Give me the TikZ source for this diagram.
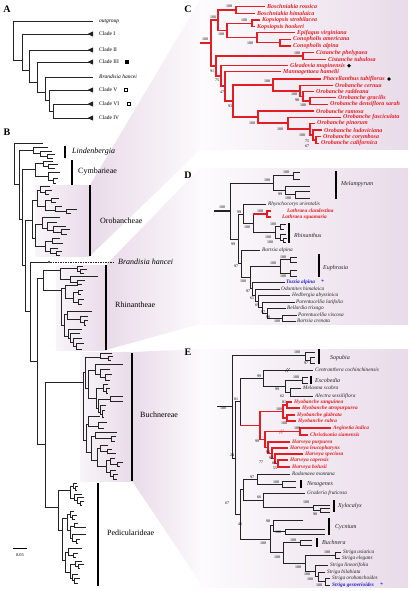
\documentclass[tikz,border=0pt]{standalone}
\usepackage{fontspec}
\setmainfont{Liberation Serif}
\definecolor{ored}{RGB}{226,30,36}
\definecolor{oblue}{RGB}{35,35,205}
\definecolor{tg}{RGB}{35,35,35}
\definecolor{shd}{RGB}{233,219,233}
\newcounter{bsn}
\newcounter{tln}
\newcommand\brk[5]{\draw (#4,#2) -- (#1,#2) -- (#1,#3) -- (#5,#3);}
\newcommand\bsv[3]{\stepcounter{bsn}\node[bs] (b\arabic{bsn}) at (#1,#2) {#3};}
\newcommand\tlab[4]{\stepcounter{tln}\node[#1] (t\arabic{tln}) at (#2,#3) {#4};}
\tikzset{
  bs/.style={inner sep=0pt, font=\fontsize{4}{4.5}\selectfont, text=black},
  alab/.style={anchor=west, inner sep=0pt, font=\fontsize{5.5}{6}\selectfont},
  tipC/.style={anchor=west, inner sep=0pt, font=\fontsize{6}{7}\selectfont\bfseries\itshape, text=ored},
  tip/.style={anchor=west, inner sep=0pt, font=\fontsize{5.3}{6}\selectfont\itshape, text=tg},
  tipR/.style={tip, font=\fontsize{5.3}{6}\selectfont\bfseries\itshape, text=ored},
  tipB/.style={tip, font=\fontsize{5.3}{6}\selectfont\bfseries\itshape, text=oblue},
  grp/.style={anchor=west, inner sep=0pt, font=\fontsize{6}{7}\selectfont\itshape, text=tg},
  clade/.style={anchor=west, inner sep=0pt, font=\fontsize{8}{9}\selectfont},
  plab/.style={inner sep=0pt, font=\fontsize{10}{11}\selectfont\bfseries},
  bar/.style={line width=1.4pt, black},
}
\begin{document}
\begin{tikzpicture}[x=1pt,y=-1pt]
\useasboundingbox (0,0) rectangle (410,591);
% ---------- shading fans ----------
\shade[left color=shd!30, right color=shd] (35,185) rectangle (90,256);
\shade[left color=shd, right color=shd!15] (90,185) -- (200,0) -- (200,150) -- (90,256) -- cycle;
\shade[left color=shd!10, right color=shd] (200,0) rectangle (408,149);
\shade[left color=shd!30, right color=shd] (56,265) rectangle (106,350);
\shade[left color=shd, right color=shd!15] (106,265) -- (200,168) -- (200,324) -- (106,350) -- cycle;
\shade[left color=shd!10, right color=shd] (200,168) rectangle (408,324);
\shade[left color=shd!30, right color=shd] (80,352) rectangle (132,481);
\shade[left color=shd, right color=shd!15] (132,352) -- (200,349) -- (200,582) -- (132,481) -- cycle;
\shade[left color=shd!10, right color=shd] (200,349) rectangle (408,587);
% ---------- panel letters ----------
\node[plab] (pA) at (7,9) {A};
\node[plab] (pB) at (7,132) {B};
\node[plab] (pC) at (188,9) {C};
\node[plab] (pD) at (188,175) {D};
\node[plab] (pE) at (188,352) {E};
% ---------- panel A ----------
\begin{scope}[line width=0.9pt, tg]
\brk{13}{21.7}{60}{93}{22}
\brk{22}{34}{70}{93}{29}
\brk{29}{50}{82}{93}{37}
\brk{37}{62}{92}{93}{45}
\brk{45}{77}{100}{93}{49}
\brk{49}{90}{111}{93}{53}
\brk{53}{104}{118}{93}{93}
\foreach \yy in {34,50,62,90,104,118}{\fill (87.5,\yy) -- (93,\yy-2.6) -- (93,\yy+2.6) -- cycle;}
\end{scope}
\tlab{alab}{99}{21.7}{\itshape outgroup}
\tlab{alab}{99}{34}{Clade I}
\tlab{alab}{99}{50}{Clade II}
\tlab{alab}{99}{62}{Clade III}
\tlab{alab}{99}{77}{\itshape Brandisia hancei}
\tlab{alab}{99}{90}{Clade V}
\tlab{alab}{99}{104}{Clade VI}
\tlab{alab}{99}{118}{Clade IV}
\fill[black] (125.3,60.5) rectangle (128.7,63.9);
\draw[line width=0.4pt] (124,88.5) rectangle (127,91.5);
\draw[line width=0.4pt] (127,102.5) rectangle (130,105.5);
% ---------- panel B ----------
\begin{scope}[line width=0.6pt, tg]
\brk{14}{143}{184}{43}{19}
\brk{19}{150}{219}{33}{22}
\brk{22}{169.5}{265.5}{35}{25}
\brk{25}{220}{311}{32}{30}
\brk{30}{262}{361}{48}{37}
\brk{37}{278}{444.5}{43}{45}
\brk{45}{382}{507}{83}{58}
% Lindenbergia
\brk{33}{147}{153}{48}{40}
\brk{40}{151}{156}{52}{47}
\brk{47}{154}{158}{55}{53}
% Cymbarieae
\brk{35}{163.5}{176}{43}{48}
\brk{43}{161}{166}{53}{48}
\brk{48}{164.5}{168}{58}{55}
\brk{48}{172}{180}{60}{53}
\brk{53}{178}{183}{58}{56}
% Orobancheae
\brk{32}{200}{238}{37}{35}
\brk{37}{190}{206}{40}{45}
\brk{40}{186.5}{192}{50}{45}
\brk{45}{190}{194}{52}{49}
\brk{45}{200}{210}{51}{55}
\brk{51}{198}{202}{59}{56}
\brk{55}{206}{211}{62}{66}
\brk{66}{209.5}{213}{77}{71}
\brk{35}{224}{246}{42}{45}
\brk{42}{217}{228}{60}{47}
\brk{47}{222}{230}{57}{53}
\brk{53}{226}{232}{66}{61}
\brk{61}{229.5}{234.5}{70}{67}
\brk{45}{241}{251}{52}{50}
\brk{52}{238}{243}{60}{63}
\brk{50}{248}{253}{58}{56}
\brk{56}{251.5}{255}{62}{60}
% Rhinantheae
\brk{43}{270}{290}{60}{61}
\brk{60}{268}{279}{77}{70}
\brk{77}{266}{271}{83}{80}
\brk{80}{269}{273}{87}{84}
\brk{70}{276}{282}{98}{77}
\brk{77}{280}{284}{85}{82}
\brk{61}{288}{325}{65}{64}
\brk{65}{285}{298}{78}{73}
\brk{73}{292}{302}{78}{78}
\brk{78}{290}{294}{83}{81}
\brk{78}{299}{304}{84}{82}
\brk{64}{314}{336}{67}{68}
\brk{67}{311}{319}{92}{80}
\brk{80}{316}{322}{88}{84}
\brk{84}{320}{325}{88}{86}
\brk{68}{329}{338}{82}{70}
\brk{70}{333}{342}{80}{73}
\brk{73}{338}{346}{82}{76}
\brk{76}{343}{349}{84}{82}
% Buchnereae
\brk{83}{372}{440}{85}{86}
\brk{85}{357}{388}{100}{88}
\brk{100}{353}{358}{112}{108}
\brk{108}{356}{360}{113}{111}
\brk{88}{370}{398}{95}{96}
\brk{95}{364}{374}{123}{100}
\brk{100}{369}{377}{110}{105}
\brk{105}{374}{380}{112}{110}
\brk{96}{388}{408}{103}{98}
\brk{103}{384}{391}{108}{106}
\brk{106}{388.5}{393}{110}{108}
\brk{98}{399}{412}{110}{100}
\brk{110}{396.5}{401}{123}{123}
\brk{100}{405}{414}{106}{102}
\brk{102}{410}{417}{105}{104}
\brk{86}{424}{452}{88}{91}
\brk{88}{416}{426}{100}{98}
\brk{98}{422}{428.5}{107}{104}
\brk{91}{436}{460}{95}{97}
\brk{95}{432}{438}{117}{111}
\brk{111}{436}{441}{116}{115}
\brk{97}{448}{466}{100}{106}
\brk{100}{445}{451}{108}{107}
\brk{107}{449}{453}{112}{116}
\brk{106}{460}{472}{110}{110}
\brk{110}{458}{464}{115}{117}
\brk{117}{462}{466}{123}{120}
\brk{110}{470}{476}{116}{113}
\brk{113}{474}{479}{118}{117}
% Pedicularideae
\brk{58}{490}{530}{70}{62}
\brk{70}{486}{498}{73}{74}
\brk{73}{483}{488}{77}{75}
\brk{75}{486}{490}{78}{77}
\brk{74}{494}{500}{82}{77}
\brk{77}{497}{503}{84}{80}
\brk{80}{501}{505}{84}{82}
\brk{62}{518}{560}{67}{65}
\brk{67}{514}{530}{70}{70}
\brk{70}{511}{517}{74}{72}
\brk{72}{515}{519}{77}{75}
\brk{70}{526}{538}{74}{72}
\brk{74}{523}{527}{78}{86}
\brk{72}{534}{541}{86}{76}
\brk{76}{539}{543}{80}{78}
\brk{65}{552}{572}{68}{70}
\brk{68}{548}{555}{82}{73}
\brk{73}{553}{557}{78}{76}
\brk{70}{564}{578}{75}{72}
\brk{75}{561}{566}{82}{78}
\brk{78}{564}{568}{84}{80}
\brk{72}{574}{580}{78}{74}
\brk{74}{578}{583}{80}{78}
\end{scope}
% Brandisia
\fill[tg] (49,262) circle (1.1);
\coordinate (brA) at (50,262);
\coordinate (brB) at (113,262);
\draw[tg, line width=0.4pt, dash pattern=on 1.5pt off 1pt] (brA) -- (brB);
\node[clade, font=\fontsize{8}{9}\selectfont\itshape] (bh) at (118,262) {Brandisia hancei};
% bars and clade names
\draw[bar] (65,146) -- (65,158);
\node[clade, font=\fontsize{8}{9}\selectfont\itshape] (cl1) at (72,152) {Lindenbergia};
\draw[bar] (72,160) -- (72,185);
\node[clade] (cl2) at (78,172) {Cymbarieae};
\draw[bar] (90,185) -- (90,256);
\node[clade] (cl3) at (100,221) {Orobancheae};
\draw[bar] (106,265) -- (106,350);
\node[clade] (cl4) at (115,305) {Rhinantheae};
\draw[bar] (132,353) -- (132,481);
\node[clade] (cl5) at (140,415) {Buchnereae};
\draw[bar] (98,483) -- (98,586);
\node[clade] (cl6) at (107,533) {Pedicularideae};
% scale bar
\draw[line width=0.6pt] (13,548) -- (27,548);
\node[bs, font=\fontsize{4.4}{5}\selectfont] (sc) at (20,555) {0.05};
% ---------- panel C ----------
\begin{scope}[line width=1.1pt, ored]
\draw (200,43) -- (211,43);
\brk{211}{20}{66}{218}{216}
\brk{218}{10}{30.5}{236}{227}
\brk{236}{6.7}{13.3}{265}{255}
\brk{227}{23.3}{37.7}{252}{257}
\brk{252}{20}{26.7}{260}{255}
\brk{257}{32.7}{42.7}{295}{280}
\brk{280}{39.3}{46}{291}{291}
\brk{216}{56}{76}{303}{221}
\brk{303}{52.7}{59.3}{314}{326}
\brk{221}{65.7}{86}{288}{225}
\brk{225}{71.7}{101}{281}{233}
\brk{233}{85}{117}{273}{258}
\brk{273}{79}{91}{321}{300}
\brk{300}{85.7}{96.3}{333}{303}
\brk{303}{91.7}{101}{314}{310}
\brk{310}{97.7}{104.3}{336}{328}
\brk{258}{111}{123}{314}{288}
\brk{288}{117.3}{129}{341}{310}
\brk{310}{123.3}{135}{315}{313}
\brk{313}{130}{140}{322}{316}
\brk{316}{136.7}{143.3}{321}{319}
\end{scope}
\tlab{tipC}{267}{6.7}{Boschniakia rossica}
\tlab{tipC}{257}{13.3}{Boschniakia himalaica}
\tlab{tipC}{262}{20}{Kopsiopsis strobilacea}
\tlab{tipC}{257}{26.7}{Kopsiopsis hookeri}
\tlab{tipC}{297}{32.7}{Epifagus virginiana}
\tlab{tipC}{293}{39.3}{Conopholis americana}
\tlab{tipC}{293}{46}{Conopholis alpina}
\tlab{tipC}{316}{52.7}{Cistanche phelypaea}
\tlab{tipC}{328}{59.3}{Cistanche tubulosa}
\tlab{tipC}{290}{65.7}{Gleadovia mupinensis}
\tlab{tipC}{283}{71.7}{Mannagettaea hamelii}
\tlab{tipC}{323}{79}{Phacellanthus tubiflorus}
\tlab{tipC}{335}{85.7}{Orobanche cernua}
\tlab{tipC}{316}{91.7}{Orobanche raddeana}
\tlab{tipC}{338}{97.7}{Orobanche gracilis}
\tlab{tipC}{330}{104.3}{Orobanche densiflora sarah}
\tlab{tipC}{316}{111}{Orobanche ramosa}
\tlab{tipC}{343}{117.3}{Orobanche fasciculata}
\tlab{tipC}{317}{123.3}{Orobanche pinorum}
\tlab{tipC}{324}{130}{Orobanche ludoviciana}
\tlab{tipC}{323}{136.7}{Orobanche corymbosa}
\tlab{tipC}{321}{143.3}{Orobanche californica}
\fill[black] (349,65.7) circle (1.9);
\fill[black] (389,79) circle (1.9);
\bsv{229}{6}{100}\bsv{244}{20}{100}\bsv{213}{17}{100}\bsv{221}{34}{100}
\bsv{250}{43}{100}\bsv{205}{39}{100}\bsv{297}{53}{100}\bsv{212}{71}{91}
\bsv{217}{80}{75}\bsv{267}{81}{100}\bsv{222}{92}{47}\bsv{230}{106}{93}
\bsv{294}{94}{100}\bsv{297}{100}{98}\bsv{303}{105}{100}\bsv{252}{123}{100}
\bsv{280}{129}{100}\bsv{302}{135}{100}\bsv{307}{141}{75}\bsv{307}{146}{67}
% ---------- panel D ----------
\draw[tg, line width=1.4pt] (214,211) -- (230,211);
\begin{scope}[line width=0.6pt, tg]
\brk{230}{183}{239}{273}{238}
\brk{273}{175.5}{190}{293}{285}
\brk{293}{172}{179}{300}{300}
\brk{285}{186}{194.5}{310}{295}
\brk{295}{191}{198}{310}{310}
\brk{238}{214.5}{263.5}{243}{241}
\brk{243}{204}{223}{266}{253}
\draw (275,232) -- (253,232) -- (253,214);
\brk{275}{226.5}{238}{280}{280}
\brk{280}{224}{229}{286}{284}
\brk{280}{234}{240}{286}{283}
\brk{283}{238}{242}{287}{286}
\brk{241}{250}{277}{260}{250}
\brk{250}{266}{288.5}{280}{252}
\brk{280}{259.5}{273}{290}{290}
\brk{290}{257}{262}{297}{297}
\brk{290}{270}{276}{297}{297}
\brk{252}{282}{295}{285}{255}
\brk{255}{289}{301}{280}{258}
\brk{258}{295}{307.5}{290}{262}
\brk{262}{302}{313}{295}{267}
\brk{267}{308}{318}{286}{282}
\brk{282}{315}{321}{297}{296}
\end{scope}
\begin{scope}[line width=1.1pt, ored]
\draw (253,214) -- (267,214);
\brk{267}{211}{217}{271}{271}
\end{scope}
\draw[bar] (336,171) -- (336,199);
\draw[bar] (289,223) -- (289,243);
\draw[bar] (319,254) -- (319,277);
\tlab{grp}{341}{184}{Melampyrum}
\tlab{tip}{268}{204}{Rhynchocorys orientalis}
\tlab{tipR}{287}{211}{Lathraea clandestina}
\tlab{tipR}{282}{217}{Lathraea squamaria}
\tlab{grp}{294}{235}{Rhinanthus}
\tlab{tip}{262}{250}{Bartsia alpina}
\tlab{grp}{323}{268}{Euphrasia}
\tlab{tipB}{286}{282}{Tozzia alpina}
\tlab{tipB}{321}{282}{*}
\tlab{tip}{281}{289}{Odontites himalaica}
\tlab{tip}{292}{295}{Hedbergia abyssinica}
\tlab{tip}{296}{302}{Parentucellia latifolia}
\tlab{tip}{287}{308}{Bellardia trixago}
\tlab{tip}{298}{315}{Parentucellia viscosa}
\tlab{tip}{297}{321}{Bartsia crenata}
\bsv{286}{172}{100}\bsv{267}{180}{100}\bsv{280}{194}{99}\bsv{288}{198}{100}
\bsv{222}{207}{100}\bsv{239}{212}{99}\bsv{260}{211}{100}\bsv{247}{227}{100}
\bsv{273}{224}{100}\bsv{268}{237}{100}\bsv{270}{242}{100}\bsv{233}{244}{99}
\bsv{283}{257}{100}\bsv{273}{263}{100}\bsv{283}{276}{100}\bsv{236}{266}{97}
\bsv{243}{281}{100}\bsv{248}{291}{97}\bsv{252}{298}{65}\bsv{257}{305}{69}
\bsv{263}{312}{97}\bsv{268}{317}{98}\bsv{277}{321}{100}
% ---------- panel E ----------
\draw[tg, line width=1.4pt] (217,406.5) -- (232,406.5);
\begin{scope}[line width=0.6pt, tg]
\brk{232}{355}{458}{305}{235}
\brk{305}{352}{360}{315}{310}
\brk{310}{357}{363}{315}{315}
\brk{235}{401.75}{514.4}{240}{240}
\draw (263,378) -- (240,378) -- (240,425.5);
\brk{263}{370}{386}{313}{285}
\brk{285}{380}{392}{302}{290}
\brk{302}{377}{383}{308}{308}
\brk{290}{388}{396}{301}{313}
\brk{240}{489.5}{539.25}{243}{270}
\brk{243}{479}{500}{257}{263}
\brk{257}{474}{484}{290}{282}
\brk{282}{481}{487}{296}{296}
\brk{263}{493}{507.7}{305}{313}
\brk{313}{505}{510.5}{330}{320}
\brk{320}{508.5}{512.5}{330}{330}
\brk{270}{525.75}{552.75}{273}{283}
\brk{273}{520}{531.5}{303}{285}
\brk{285}{529}{534}{325}{325}
\brk{283}{542.5}{563}{300}{305}
\brk{300}{540}{545}{312}{312}
\brk{305}{555}{570.9}{335}{315}
\brk{335}{552}{558}{341}{340}
\brk{315}{565}{576.75}{328}{318}
\brk{318}{572}{581.5}{325}{325}
\brk{325}{578}{585}{330}{330}
\draw[line width=0.4pt] (285.5,372) -- (287.5,368) (287.5,372) -- (289.5,368);
\end{scope}
\begin{scope}[line width=1.1pt, ored]
\draw (240,425.5) -- (260,425.5);
\brk{260}{411.5}{439.6}{283}{265}
\brk{283}{405}{418}{287}{287}
\brk{287}{402}{408}{292}{300}
\brk{287}{415}{421}{295}{296}
\brk{265}{431.5}{447.7}{300}{268}
\brk{300}{428}{435}{331}{308}
\brk{268}{442}{453.4}{290}{272}
\brk{272}{448}{458.75}{288}{275}
\brk{275}{454}{463.5}{303}{278}
\brk{278}{460}{467}{288}{290}
\draw[line width=0.4pt] (279.5,433.5) -- (281.5,429.5) (281.5,433.5) -- (283.5,429.5);
\end{scope}
\draw[bar] (319,349) -- (319,364);
\draw[bar] (311,376) -- (311,384);
\draw[bar] (301,480) -- (301,488);
\draw[bar] (334,500) -- (334,512);
\draw[bar] (329,518) -- (329,535);
\draw[bar] (317,538) -- (317,547);
\tlab{grp}{330}{358}{Sopubia}
\tlab{tip}{315}{370}{Centranthera cochinchinensis}
\tlab{grp}{315}{380}{Escobedia}
\tlab{tip}{303}{388}{Melasma scabra}
\tlab{tip}{315}{396}{Alectra sessiliflora}
\tlab{tipR}{294}{402}{Hyobanche sanguinea}
\tlab{tipR}{302}{408}{Hyobanche atropurpurea}
\tlab{tipR}{297}{415}{Hyobanche glabrata}
\tlab{tipR}{298}{421}{Hyobanche rubra}
\tlab{tipR}{333}{428}{Aeginetia indica}
\tlab{tipR}{310}{435}{Christisonia siamensis}
\tlab{tipR}{292}{442}{Harveya purpurea}
\tlab{tipR}{290}{448}{Harveya leucopharynx}
\tlab{tipR}{305}{454}{Harveya speciosa}
\tlab{tipR}{290}{460}{Harveya capensis}
\tlab{tipR}{292}{467}{Harveya bolusii}
\tlab{tip}{292}{474}{Radamaea montana}
\tlab{grp}{307}{484}{Nesogenes}
\tlab{tip}{307}{493}{Graderia fruticosa}
\tlab{grp}{338}{506}{Xylocalyx}
\tlab{grp}{335}{527}{Cycnium}
\tlab{grp}{322}{542}{Buchnera}
\tlab{tip}{343}{552}{Striga asiatica}
\tlab{tip}{342}{558}{Striga elegans}
\tlab{tip}{330}{565}{Striga linearifolia}
\tlab{tip}{327}{572}{Striga bilabiata}
\tlab{tip}{332}{578}{Striga orobanchoides}
\tlab{tipB}{332}{585}{Striga gesnerioides}
\tlab{tipB}{380}{585}{*}
\bsv{297}{352}{100}\bsv{306}{363}{97}\bsv{259}{376}{99}\bsv{296}{377}{100}
\bsv{277}{389}{99}\bsv{282}{396}{62}\bsv{223}{408}{100}\bsv{236}{399}{81}
\bsv{284}{402}{81}\bsv{279}{409}{100}\bsv{284}{423}{100}\bsv{297}{428}{100}
\bsv{257}{441}{99}\bsv{268}{452}{94}\bsv{271}{458}{92}\bsv{261}{462}{77}
\bsv{274}{463}{85}\bsv{275}{468}{55}\bsv{232}{455}{24}\bsv{252}{477}{97}
\bsv{276}{482}{100}\bsv{259}{497}{66}\bsv{227}{503}{67}\bsv{306}{502}{100}
\bsv{315}{514}{90}\bsv{268}{521}{98}\bsv{240}{524}{46}\bsv{278}{532}{100}
\bsv{263}{543}{100}\bsv{293}{540}{100}\bsv{277}{557}{100}\bsv{327}{552}{100}
\bsv{298}{567}{100}\bsv{307}{574}{100}\bsv{310}{579}{100}\bsv{319}{585}{100}
\end{tikzpicture}
\end{document}
